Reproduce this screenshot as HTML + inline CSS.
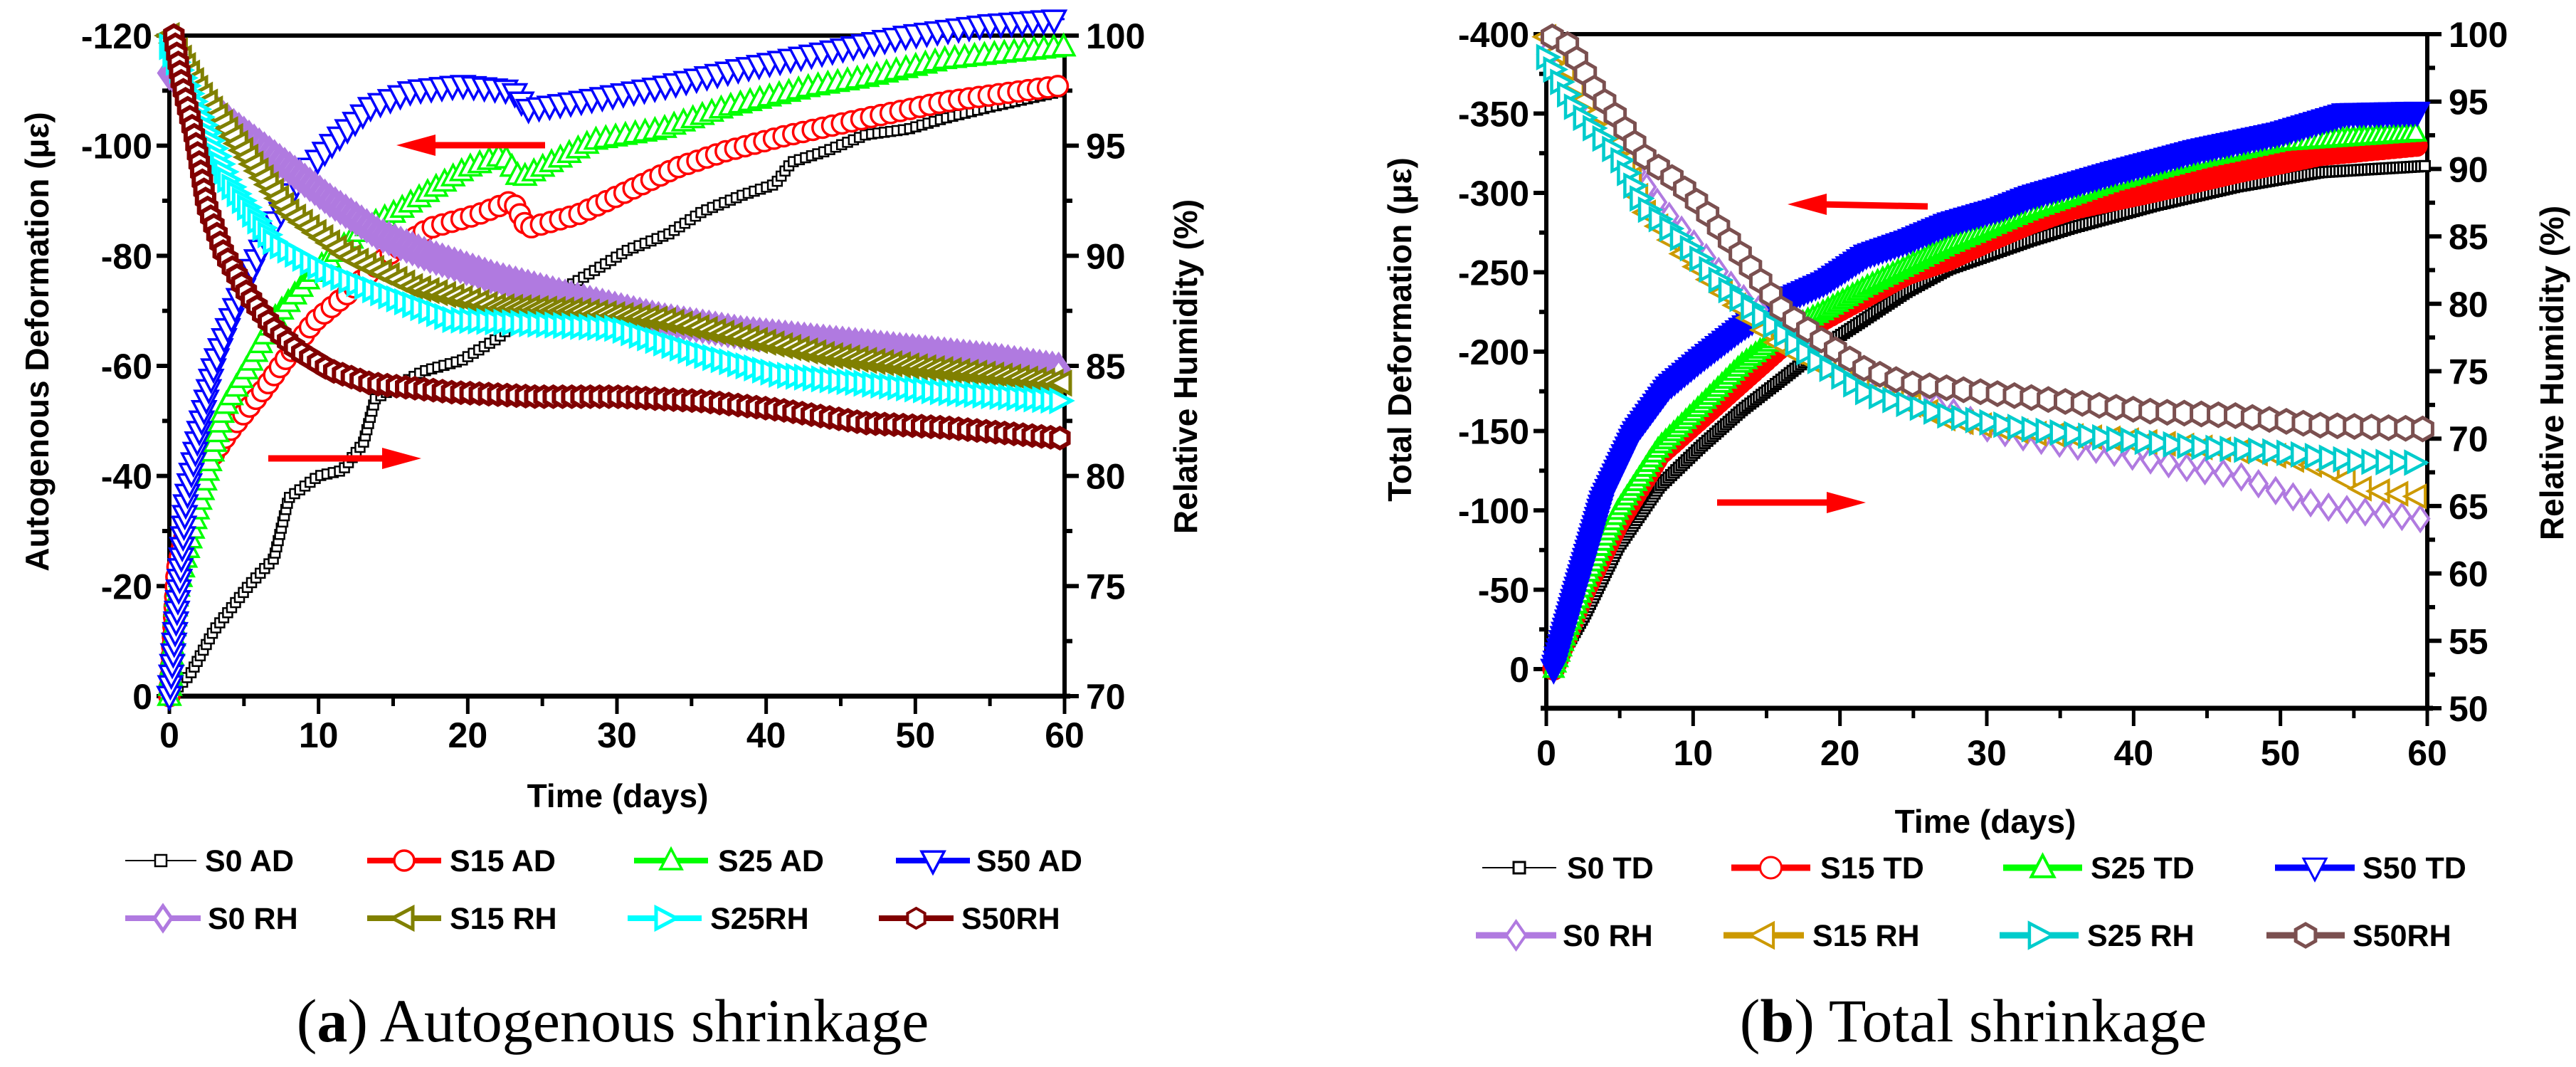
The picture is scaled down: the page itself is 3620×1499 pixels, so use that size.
<!DOCTYPE html>
<html><head><meta charset="utf-8"><style>
html,body{margin:0;padding:0;background:#fff;}
svg{display:block;}
text{font-family:"Liberation Sans",Arial,sans-serif;}
.tk{font-weight:bold;font-size:50px;fill:#000;}
.ttl{font-weight:bold;font-size:46px;fill:#000;}
.lg{font-weight:bold;font-size:43px;fill:#000;}
.cap{font-family:"Liberation Serif",serif;font-size:86px;fill:#000;}
</style></head>
<body>
<svg id="fig" width="3620" height="1499" viewBox="0 0 3620 1499" xmlns="http://www.w3.org/2000/svg">
<defs>
<clipPath id="clipA"><rect x="150" y="0" width="1420" height="1010"/></clipPath>
<clipPath id="clipB"><rect x="2100" y="0" width="1400" height="1000"/></clipPath>
</defs>
<g id="chartA"></g>
<g id="chartB"></g>
<text class="cap" x="861" y="1463" text-anchor="middle">(<tspan font-weight="bold">a</tspan>) Autogenous shrinkage</text>
<text class="cap" x="2773" y="1463" text-anchor="middle">(<tspan font-weight="bold">b</tspan>) Total shrinkage</text>
</svg>
<script>
// ---------- Chart A data (days, |deformation| µε or RH %) ----------
const a_s0ad_x=[0,1.4,3,5.3,7,8,10,11.6,13,13.8,17,19.6,22,24,27.4,30.7,33.5,35.7,38.4,40.6,41.7,44,46.7,49.5,52,55,60];
const a_s0ad_y=[0,4,12,20,25,36,40,41,46,54,59,61,65,70,75.5,81,84,88,91,93,97,99,102,103,105,107,110];
const a_s15ad_x=[0,0.5,2,4,6.4,8,9.7,11.9,14.6,17.4,20.7,23,24,27.4,30.7,34,37.3,41,46.7,52,60];
const a_s15ad_y=[0,23,40,48,56,62,68,73,80,85,87.5,90,85,87.5,91.7,96,99,101.6,105,108,111];
const a_s25ad_x=[0,0.5,2,3.6,5.3,7,9.7,13,15.2,17.4,20,22.4,23.5,26,28.5,33,37.3,43,46.7,52,60];
const a_s25ad_y=[0,19,35,52,60,68.5,77,85,88,91.7,96,98.3,94,97.5,101,103,107,110.7,112.4,115.7,118];
const a_s50ad_x=[0,0.5,1.1,2,3,4.7,6.4,8.6,10.8,13.5,16.3,19.6,23,24,27.4,33,38.4,44,49.5,55,60];
const a_s50ad_y=[0,15,35,48,60,72.6,82.5,93.3,100,107,110,111,110,106.6,108,110.7,114,117,120,122,123];
const a_s0rh_x=[0,2,5.3,8,10.8,14,17.4,21.8,27.4,33,38.4,44,49.5,55,60];
const a_s0rh_y=[98.3,97.1,95.4,94,92.5,91,90,89,88,87.1,86.5,86.1,85.7,85.3,84.8];
const a_s15rh_x=[0,2,4.7,8,11.9,16.3,21.8,27.4,33,38.4,44,49.5,55,60];
const a_s15rh_y=[100,97.5,95,92,90,88.6,87.7,87.5,87.1,86.3,85.5,85,84.6,84.2];
const a_s25rh_x=[0,2,4,7,10.8,14.6,19,24.6,30,35.7,41,46.7,52,60];
const a_s25rh_y=[99.5,96.4,93.3,90.6,89.2,88.2,87.1,86.9,86.7,85.5,84.6,84.2,83.8,83.4];
const a_s50rh_x=[0.3,0.8,1.7,2.5,3.6,5.3,7,8.6,10.8,13.5,19,24.6,30,35.7,41,46.7,52,60];
const a_s50rh_y=[100,97.9,95.4,92.3,90.2,88.2,86.7,85.7,84.8,84.2,83.8,83.6,83.6,83.4,83,82.4,82.2,81.7];
const a_xticks=[0,10,20,30,40,50,60];
const a_lticks=[0,20,40,60,80,100,120];
const a_lticklabels=["0","-20","-40","-60","-80","-100","-120"];
const a_rticks=[70,75,80,85,90,95,100];

// ---------- Chart B data ----------
const b_s0td_x=[0.5,2.6,4.9,7.7,10.5,13.3,16.1,19,21.8,24.6,27.4,30.2,33,35.8,41.4,47,52.7,60];
const b_s0td_y=[0,34,77,115,140,163,183,204,221,238,252,261,270,278,292,304,313,317];
const b_s15td_x=[0.5,2.6,4.9,7.7,10.5,13.3,16.1,19,21.8,24.6,27.4,30.2,33,35.8,41.4,47,52.7,59.4];
const b_s15td_y=[0,49,92,135,158,181,204,221,235,249,258,270,281,290,301,313,324,330];
const b_s25td_x=[0.5,2.6,4.9,7.7,10.5,13.3,16.1,19,21.8,27.4,33,38.6,44.3,50,59.4];
const b_s25td_y=[0,55,100,140,166,192,212,226,241,267,289,307,321,332,338];
const b_s50td_x=[0.5,2,3.8,6,8.3,10.5,13.3,16.1,19,21.8,24.6,27.4,30.8,33,38.6,44.3,50,54.4,59.4];
const b_s50td_y=[0,49,106,149,178,195,215,232,244,261,270,281,290,298,313,327,338,350,351];
const b_s0rh_x=[0,2,4.9,7.7,10.5,13.3,16.1,19,21.8,24.6,27.4,30.2,33,38.6,44.3,47,50,52.7,55.5,60];
const b_s0rh_y=[98.5,95.4,91.7,87.3,83.9,80.5,78.2,76.1,74.4,73.1,72.1,70.7,70,69,67.7,67.3,66,65,64.6,64];
const b_s15rh_x=[0,2,4.9,6.6,9.4,13.3,16.1,21.8,27.4,33,38.6,44.3,50,53.3,55.5,60];
const b_s15rh_y=[99.8,96.1,92,87,83.6,79.5,76.8,73.8,71.4,70.4,70,69.4,68.7,67.7,66.3,65.6];
const b_s25rh_x=[0,2,4.9,6.6,9.4,12.2,15,18.4,21.8,27.4,33,38.6,44.3,50,55.5,60];
const b_s25rh_y=[98.3,94.4,91,87.3,84.6,81.2,78.8,75.8,73.4,71.7,70.7,70,69.4,69,68.3,68.2];
const b_s50rh_x=[0.4,1.5,3.2,4.9,6.6,9,10.5,13.3,16.1,19,21.8,24.6,30.2,35.8,41.4,47,52.7,60];
const b_s50rh_y=[99.8,99.2,96.1,93.7,91,89,87.3,83.6,79.5,77.1,75.1,74.1,73.4,72.7,72,71.7,71,70.7];
const b_xticks=[0,10,20,30,40,50,60];
const b_lticks=[0,50,100,150,200,250,300,350,400];
const b_lticklabels=["0","-50","-100","-150","-200","-250","-300","-350","-400"];
const b_rticks=[50,55,60,65,70,75,80,85,90,95,100];

const NS="http://www.w3.org/2000/svg";
function mk(tag,attrs,parent){const e=document.createElementNS(NS,tag);for(const k in attrs)e.setAttribute(k,attrs[k]);parent.appendChild(e);return e;}

function shape(type,cx,cy,s){
  const h=s/2;
  if(type==='square')return ['rect',{x:cx-h,y:cy-h,width:s,height:s}];
  if(type==='circle')return ['circle',{cx:cx,cy:cy,r:h}];
  let pts;
  if(type==='up')pts=[[cx,cy-h*1.1],[cx+h,cy+h*0.8],[cx-h,cy+h*0.8]];
  else if(type==='down')pts=[[cx-h,cy-h*0.8],[cx+h,cy-h*0.8],[cx,cy+h*1.1]];
  else if(type==='left')pts=[[cx-h*1.1,cy],[cx+h*0.8,cy-h],[cx+h*0.8,cy+h]];
  else if(type==='right')pts=[[cx+h*1.1,cy],[cx-h*0.8,cy-h],[cx-h*0.8,cy+h]];
  else if(type==='diamond')pts=[[cx,cy-h*1.15],[cx+h*0.8,cy],[cx,cy+h*1.15],[cx-h*0.8,cy]];
  else {pts=[];for(let i=0;i<6;i++){const a=Math.PI/3*i+Math.PI/2;pts.push([cx+h*Math.cos(a),cy+h*Math.sin(a)]);}}
  return ['polygon',{points:pts.map(p=>p.join(',')).join(' ')}];
}

function drawSeries(g,xs,ys,xf,yf,st,name){
  const sg=mk('g',{'clip-path':st.clip},g);
  
  
  const d=xs.map((x,i)=>(i?'L':'M')+xf(x).toFixed(1)+','+yf(ys[i]).toFixed(1)).join(' ');
  const p=mk('path',{d:d,fill:'none',stroke:st.color,'stroke-width':st.lw,'stroke-dasharray':st.dash||'none'},sg);
  
  
  const L=p.getTotalLength();
  for(let l=0;l<=L+0.1;l+=st.gap){
    const pt=p.getPointAtLength(Math.min(l,L));
    const [t,at]=shape(st.m,pt.x,pt.y,st.size);
    at.fill=st.fill||'#fff';at.stroke=st.color;at['stroke-width']=st.sw;
    const e=mk(t,at,sg);
    
    
  }
}

function legendEntry(g,x1,x2,y,tx,label,st,name){
  const lg=mk('g',{},g);
  
  
  mk('line',{x1:x1,x2:x2,y1:y,y2:y,stroke:st.color,'stroke-width':st.llw||st.lw},lg);
  const [t,at]=shape(st.m,(x1+x2)/2,y,st.lsize||st.size);
  at.fill='#fff';at.stroke=st.color;at['stroke-width']=st.sw;
  mk(t,at,lg);
  const te=mk('text',{x:tx,y:y+15,class:'lg'},lg);te.textContent=label;
}

function axes(g,o){
  const {x0,x1,yT,yB,xf,yl,yr,xt,lt,ltl,rt,rmin,rstep,lminor}=o;
  const ax=mk('g',{},g);
  
  
  mk('line',{x1:x0-8,x2:x1+8,y1:yB,y2:yB,stroke:'#000','stroke-width':7},ax);
  mk('line',{x1:x0-8,x2:x1,y1:yT,y2:yT,stroke:'#000','stroke-width':6},ax);
  mk('line',{x1:x0,x2:x0,y1:yT,y2:yB,stroke:'#000','stroke-width':6},ax);
  mk('line',{x1:x1,x2:x1,y1:yT,y2:yB+3,stroke:'#000','stroke-width':6},ax);
  xt.forEach(v=>{
    const x=xf(v);
    mk('line',{x1:x,x2:x,y1:yB,y2:yB+25,stroke:'#000','stroke-width':5},ax);
    if(v<60){const xm=xf(v+5);mk('line',{x1:xm,x2:xm,y1:yB,y2:yB+14,stroke:'#000','stroke-width':5},ax);}
    const t=mk('text',{x:x,y:yB+o.xly,class:'tk','text-anchor':'middle','font-size':o.fs},ax);
    
    
    t.textContent=v;
  });
  lt.forEach((v,i)=>{
    const y=yl(v);
    mk('line',{x1:x0-18,x2:x0,y1:y,y2:y,stroke:'#000','stroke-width':6},ax);
    if(i<lt.length-1){const ym=yl(v+lminor);mk('line',{x1:x0-10,x2:x0,y1:ym,y2:ym,stroke:'#000','stroke-width':6},ax);}
    const t=mk('text',{x:x0-24,y:y+18,class:'tk','text-anchor':'end','font-size':o.fs},ax);
    
    
    t.textContent=ltl[i];
  });
  rt.forEach((v,i)=>{
    const y=yr(v);
    mk('line',{x1:x1,x2:x1+20,y1:y,y2:y,stroke:'#000','stroke-width':6},ax);
    if(i<rt.length-1){const ym=yr(v+rstep/2);mk('line',{x1:x1,x2:x1+11,y1:ym,y2:ym,stroke:'#000','stroke-width':6},ax);}
    const t=mk('text',{x:x1+30,y:y+18,class:'tk','font-size':o.fs},ax);
    
    
    t.textContent=v;
  });
}

function arrow(g,xa,ya,xb,yb,name){
  // arrow from (xa,ya) to head at (xb,yb)
  const ag=mk('g',{},g);
  
  
  const dir=Math.sign(xb-xa);
  mk('line',{x1:xa,y1:ya,x2:xb-dir*45,y2:yb,stroke:'#ff0000','stroke-width':9},ag);
  mk('polygon',{points:`${xb},${yb} ${xb-dir*55},${yb-15} ${xb-dir*55},${yb+15}`,fill:'#ff0000'},ag);
}

// ---------- Chart A ----------
(function(){
  const g=document.getElementById('chartA');
  const x0=238,x1=1496,yT=50,yB=978;
  const xf=d=>x0+d/60*(x1-x0);
  const yl=v=>yB-v/120*(yB-yT);
  const yr=v=>yB-(v-70)/30*(yB-yT);
  axes(g,{x0,x1,yT,yB,xf,yl,yr,xt:a_xticks,lt:a_lticks,ltl:a_lticklabels,rt:a_rticks,rmin:70,rstep:5,lminor:10,xly:72,fs:50});
  const S={
    s0ad:{color:'#000',m:'square',size:13,sw:2.5,lw:2,gap:9,clip:'url(#clipA)'},
    s15ad:{color:'#ff0000',m:'circle',size:28,sw:3.5,lw:3,gap:14,clip:'url(#clipA)'},
    s25ad:{color:'#00ff00',m:'up',size:30,sw:3.5,lw:3,gap:14,clip:'url(#clipA)'},
    s50ad:{color:'#0000ff',m:'down',size:32,sw:3.5,lw:3,gap:15,clip:'url(#clipA)'},
    s0rh:{color:'#b07ae0',m:'diamond',size:30,sw:9,lw:6,gap:9,clip:'url(#clipA)'},
    s15rh:{color:'#808000',m:'left',size:30,sw:5,lw:5,gap:12,clip:'url(#clipA)'},
    s25rh:{color:'#00ffff',m:'right',size:30,sw:5,lw:5,gap:12,clip:'url(#clipA)'},
    s50rh:{color:'#800000',m:'hex',size:28,sw:6,lw:5,gap:13,clip:'url(#clipA)'}
  };
  drawSeries(g,a_s0ad_x,a_s0ad_y,xf,yl,S.s0ad,'series-s0-ad');
  drawSeries(g,a_s15ad_x,a_s15ad_y,xf,yl,S.s15ad,'series-s15-ad');
  drawSeries(g,a_s25ad_x,a_s25ad_y,xf,yl,S.s25ad,'series-s25-ad');
  drawSeries(g,a_s50ad_x,a_s50ad_y,xf,yl,S.s50ad,'series-s50-ad');
  drawSeries(g,a_s0rh_x,a_s0rh_y,xf,yr,S.s0rh,'series-s0-rh');
  drawSeries(g,a_s15rh_x,a_s15rh_y,xf,yr,S.s15rh,'series-s15-rh');
  drawSeries(g,a_s25rh_x,a_s25rh_y,xf,yr,S.s25rh,'series-s25-rh');
  drawSeries(g,a_s50rh_x,a_s50rh_y,xf,yr,S.s50rh,'series-s50-rh');
  arrow(g,766,204,557,204,'arrow-left-axis');
  arrow(g,377,644,592,644,'arrow-right-axis');
  const t1=mk('text',{x:0,y:0,class:'ttl',transform:'translate(68,480) rotate(-90)','text-anchor':'middle'},g);
  t1.textContent='Autogenous Deformation (με)';
  const t2=mk('text',{x:0,y:0,class:'ttl',transform:'translate(1682,515) rotate(-90)','text-anchor':'middle'},g);
  t2.textContent='Relative Humidity (%)';
  const t3=mk('text',{x:868,y:1134,class:'ttl','text-anchor':'middle'},g);
  t3.textContent='Time (days)';
  const lg=mk('g',{},g);
  legendEntry(lg,176,276,1209,288,'S0 AD',Object.assign({},S.s0ad,{lsize:16}),'legend-s0-ad');
  legendEntry(lg,516,620,1209,632,'S15 AD',Object.assign({},S.s15ad,{llw:8}),'legend-s15-ad');
  legendEntry(lg,891,995,1209,1009,'S25 AD',Object.assign({},S.s25ad,{llw:8}),'legend-s25-ad');
  legendEntry(lg,1259,1363,1209,1372,'S50 AD',Object.assign({},S.s50ad,{llw:8}),'legend-s50-ad');
  legendEntry(lg,176,282,1290,292,'S0 RH',Object.assign({},S.s0rh,{sw:5,llw:8}),'legend-s0-rh');
  legendEntry(lg,516,620,1290,632,'S15 RH',Object.assign({},S.s15rh,{llw:8}),'legend-s15-rh');
  legendEntry(lg,882,986,1290,998,'S25RH',Object.assign({},S.s25rh,{llw:8}),'legend-s25-rh');
  legendEntry(lg,1235,1340,1290,1351,'S50RH',Object.assign({},S.s50rh,{sw:4,llw:8}),'legend-s50-rh');
})();

// ---------- Chart B ----------
(function(){
  const g=document.getElementById('chartB');
  const x0=2173,x1=3411,yT=48,yB=995,y0=940;
  const xf=d=>x0+d/60*(x1-x0);
  const yl=v=>y0-v/400*(y0-yT);
  const yr=v=>yB-(v-50)/50*(yB-yT);
  axes(g,{x0,x1,yT,yB,xf,yl,yr,xt:b_xticks,lt:b_lticks,ltl:b_lticklabels,rt:b_rticks,rmin:50,rstep:5,lminor:25,xly:80,fs:54});
  const S={
    s0td:{color:'#000',m:'square',size:14,sw:3,lw:9,gap:5,clip:'url(#clipB)'},
    s15td:{color:'#ff0000',m:'circle',size:26,sw:6,lw:14,gap:8,clip:'url(#clipB)',fill:'#ff0000'},
    s25td:{color:'#00ff00',m:'up',size:26,sw:4,lw:10,gap:8,clip:'url(#clipB)'},
    s50td:{color:'#0000ff',m:'down',size:30,sw:5,lw:18,gap:6,clip:'url(#clipB)',fill:'#0000ff'},
    s0rh:{color:'#b07ae0',m:'diamond',size:30,sw:4,lw:6,gap:26,clip:'url(#clipB)',dash:'16 10'},
    s15rh:{color:'#cc9900',m:'left',size:30,sw:4,lw:6,gap:26,clip:'url(#clipB)',dash:'22 10'},
    s25rh:{color:'#00cccc',m:'right',size:30,sw:4.5,lw:6,gap:20,clip:'url(#clipB)'},
    s50rh:{color:'#7b5050',m:'hex',size:32,sw:5,lw:6,gap:24,clip:'url(#clipB)'}
  };
  drawSeries(g,b_s0td_x,b_s0td_y,xf,yl,S.s0td,'series-s0-td');
  drawSeries(g,b_s15td_x,b_s15td_y,xf,yl,S.s15td,'series-s15-td');
  drawSeries(g,b_s25td_x,b_s25td_y,xf,yl,S.s25td,'series-s25-td');
  drawSeries(g,b_s50td_x,b_s50td_y,xf,yl,S.s50td,'series-s50-td');
  drawSeries(g,b_s0rh_x,b_s0rh_y,xf,yr,S.s0rh,'series-s0-rh-b');
  drawSeries(g,b_s15rh_x,b_s15rh_y,xf,yr,S.s15rh,'series-s15-rh-b');
  drawSeries(g,b_s25rh_x,b_s25rh_y,xf,yr,S.s25rh,'series-s25-rh-b');
  drawSeries(g,b_s50rh_x,b_s50rh_y,xf,yr,S.s50rh,'series-s50-rh-b');
  arrow(g,2709,290,2512,287,'arrow-left-axis-b');
  arrow(g,2413,706,2622,706,'arrow-right-axis-b');
  const t1=mk('text',{x:0,y:0,class:'ttl',transform:'translate(1983,463) rotate(-90)','text-anchor':'middle','font-size':50},g);
  t1.textContent='Total Deformation (με)';
  const t2=mk('text',{x:0,y:0,class:'ttl',transform:'translate(3602,524) rotate(-90)','text-anchor':'middle','font-size':50},g);
  t2.textContent='Relative Humidity (%)';
  const t3=mk('text',{x:2790,y:1170,class:'ttl','text-anchor':'middle','font-size':50},g);
  t3.textContent='Time (days)';
  const lg=mk('g',{},g);
  legendEntry(lg,2083,2187,1219,2202,'S0 TD',Object.assign({},S.s0td,{lw:2,lsize:16}),'legend-s0-td');
  legendEntry(lg,2433,2544,1219,2558,'S15 TD',Object.assign({},S.s15td,{llw:9,sw:3,size:30}),'legend-s15-td');
  legendEntry(lg,2815,2926,1219,2938,'S25 TD',Object.assign({},S.s25td,{llw:9,size:32}),'legend-s25-td');
  legendEntry(lg,3197,3309,1219,3320,'S50 TD',Object.assign({},S.s50td,{llw:9,sw:3,size:32}),'legend-s50-td');
  legendEntry(lg,2074,2187,1314,2196,'S0 RH',Object.assign({},S.s0rh,{llw:9,size:34}),'legend-s0-rh-b');
  legendEntry(lg,2422,2535,1314,2547,'S15 RH',Object.assign({},S.s15rh,{llw:9,size:34}),'legend-s15-rh-b');
  legendEntry(lg,2810,2921,1314,2933,'S25 RH',Object.assign({},S.s25rh,{llw:9,size:34}),'legend-s25-rh-b');
  legendEntry(lg,3185,3295,1314,3306,'S50RH',Object.assign({},S.s50rh,{llw:9}),'legend-s50-rh-b');
})();
</script>
</body></html>
